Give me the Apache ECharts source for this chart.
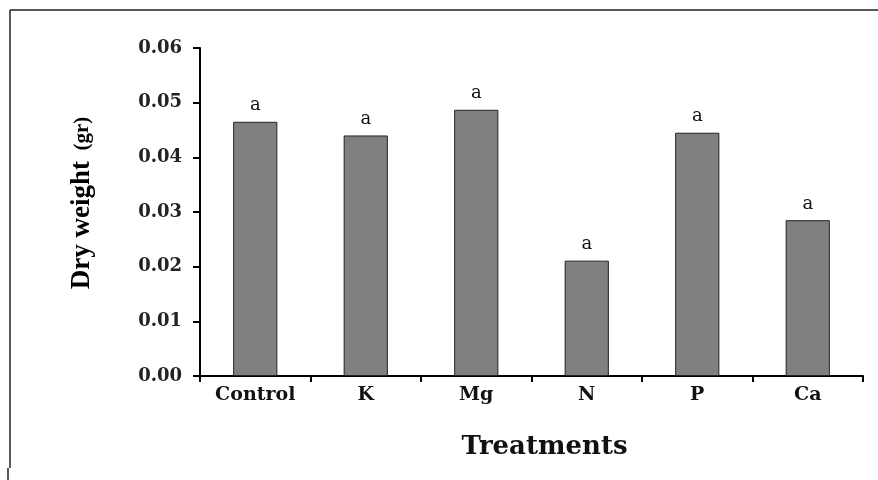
<!DOCTYPE html>
<html>
<head>
<meta charset="utf-8">
<title>Dry weight by treatment</title>
<script src="https://cdn.jsdelivr.net/npm/echarts@6/dist/echarts.min.js"></script>
<style>
  html, body { margin: 0; padding: 0; background: #fff; }
  #chart { width: 878px; height: 480px; }
</style>
</head>
<body>
<div id="chart"></div>
<script>
// Treatments and mean dry weight (gr)
const treatments = ['Control', 'K', 'Mg', 'N', 'P', 'Ca'];
const dryWeight = [0.0465, 0.0440, 0.0487, 0.0211, 0.0445, 0.0285];
const groupLetters = ['a', 'a', 'a', 'a', 'a', 'a'];
const yTicks = { min: 0, max: 0.06, interval: 0.01 };

const chart = echarts.init(document.getElementById('chart'), null, { renderer: 'canvas' });

const serifWide = '"DejaVu Serif", serif';
const serifTimes = '"Liberation Serif", "Times New Roman", serif';

chart.setOption({
  animation: false,
  backgroundColor: '#ffffff',
  grid: { left: 200, right: 15, top: 48, bottom: 104, containLabel: false },
  xAxis: {
    type: 'category',
    data: treatments,
    name: 'Treatments',
    nameLocation: 'middle',
    nameGap: 58,
    nameTextStyle: { fontFamily: serifWide, fontWeight: 'bold', fontSize: 26, color: '#111', padding: [0, 0, 0, 26] },
    axisLine: { lineStyle: { color: '#000', width: 2 } },
    axisTick: { show: true, inside: false, length: 6, alignWithLabel: false, lineStyle: { color: '#000', width: 2 } },
    axisLabel: { margin: 10, fontFamily: serifWide, fontWeight: 'bold', fontSize: 19, color: '#111' },
    splitLine: { show: false }
  },
  yAxis: {
    type: 'value',
    min: yTicks.min,
    max: yTicks.max,
    interval: yTicks.interval,
    name: '{main|Dry weight}{unit|  (gr)}',
    nameLocation: 'middle',
    nameGap: 104,
    nameRotate: 90,
    nameTextStyle: {
      padding: [0, 0, 0, 18],
      rich: {
        main: { fontFamily: serifTimes, fontWeight: 'bold', fontSize: 27, color: '#000' },
        unit: { fontFamily: serifTimes, fontWeight: 'bold', fontSize: 21, color: '#000' }
      }
    },
    axisLine: { show: true, lineStyle: { color: '#000', width: 2 } },
    axisTick: { show: true, inside: false, length: 7, lineStyle: { color: '#000', width: 2 } },
    axisLabel: {
      margin: 18,
      fontFamily: serifWide,
      fontWeight: 'bold',
      fontSize: 18,
      color: '#222',
      formatter: v => v.toFixed(2)
    },
    splitLine: { show: false }
  },
  series: [{
    type: 'bar',
    data: dryWeight,
    barCategoryGap: '60%',
    itemStyle: { color: '#808080', borderColor: '#222', borderWidth: 1 },
    label: {
      show: true,
      position: 'top',
      distance: 7,
      fontFamily: serifWide,
      fontSize: 18,
      color: '#111',
      formatter: p => groupLetters[p.dataIndex]
    }
  }],
  graphic: [
    { type: 'line', shape: { x1: 10, y1: 10, x2: 878, y2: 10 }, style: { stroke: '#222', lineWidth: 1.5 } },
    { type: 'line', shape: { x1: 10, y1: 10, x2: 10, y2: 468 }, style: { stroke: '#222', lineWidth: 1.5 } },
    { type: 'line', shape: { x1: 8, y1: 468, x2: 8, y2: 480 }, style: { stroke: '#222', lineWidth: 1.5 } }
  ]
});
</script>
</body>
</html>
